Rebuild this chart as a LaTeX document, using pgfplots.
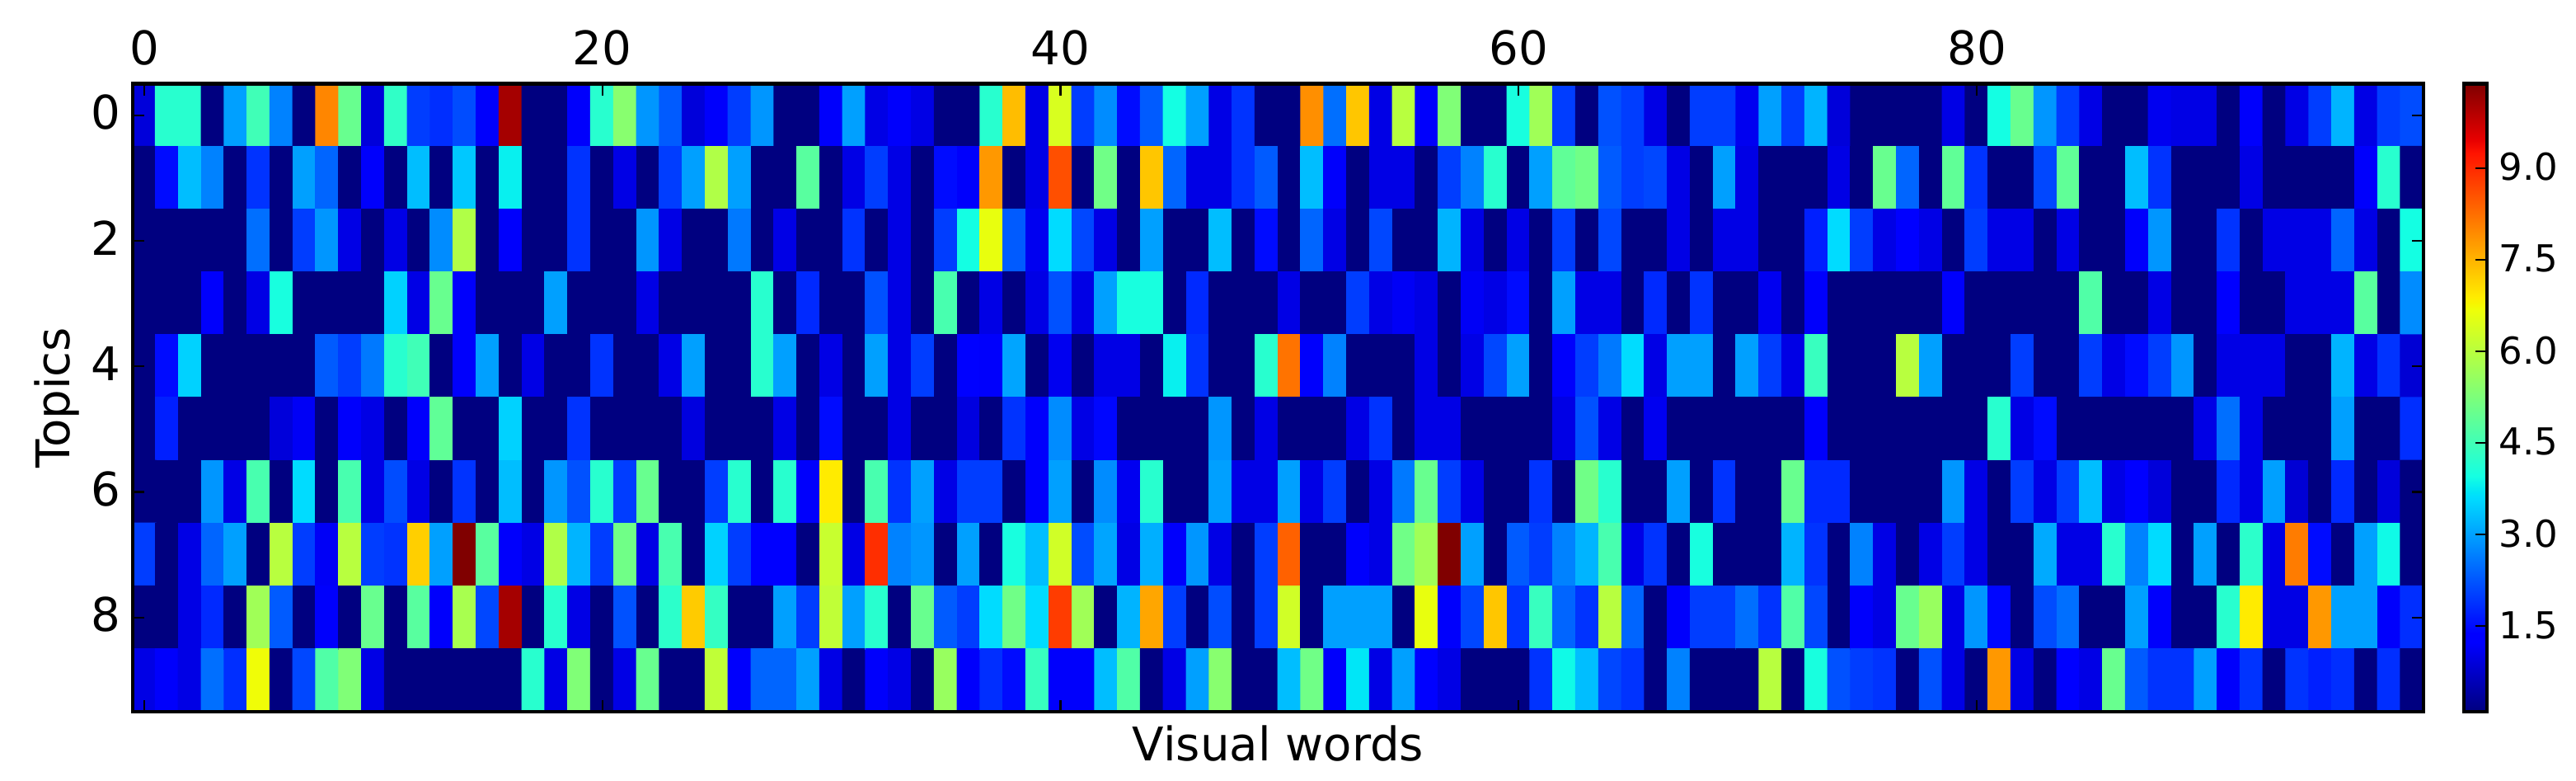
\documentclass[border=0pt]{standalone}
\usepackage{fontspec}
\setmainfont{DejaVu Sans}
\usepackage{pgfplots}
\pgfplotsset{compat=1.18}
\begin{document}
\begin{tikzpicture}
\useasboundingbox (0,0) rectangle (750pt,227.28pt);
\begin{axis}[
  at={(38.64pt,20.16pt)}, anchor=south west,
  scale only axis, width=666.96pt, height=182.76pt,
  xmin=-0.5, xmax=99.5, ymin=-0.5, ymax=9.5, y dir=reverse,
  xtick={0,20,40,60,80}, ytick={0,2,4,6,8},
  xticklabel pos=upper, tick align=inside, xtick pos=both, ytick pos=both,
  major tick length=3.4pt,
  every tick/.style={black,line width=0.5pt},
  axis line style={line width=1pt},
  axis on top,
  /pgf/number format/assume math mode=true,
  tick label style={font=\fontsize{13.5}{16}\selectfont},
  xticklabel style={yshift=1.9pt},
  yticklabel style={yshift=0.8pt},
  label style={font=\fontsize{13.5}{16}\selectfont},
  xlabel={Visual words},
  xlabel style={at={(axis description cs:0.5,0)},anchor=north,yshift=-0.6pt},
  ylabel={Topics},
  ylabel style={at={(axis description cs:0,0.5)},anchor=south,yshift=12pt},
  colormap={mjet}{rgb(0pt)=(0,0,.5); rgb(11pt)=(0,0,1); rgb(12.5pt)=(0,0,1); rgb(34pt)=(0,.86,1); rgb(35pt)=(0,.9,.968); rgb(37.5pt)=(.08,1,.887); rgb(64pt)=(.935,1,.032); rgb(65pt)=(.968,.963,0); rgb(66pt)=(1,.926,0); rgb(89pt)=(1,.074,0); rgb(91pt)=(.909,0,0); rgb(100pt)=(.5,0,0)},
  point meta min=0.1, point meta max=10.38,
  colorbar,
  colorbar style={
    at={(1.01763,0)}, anchor=south west,
    width=6.72pt, height=182.76pt,
    ytick={1.5,3,4.5,6,7.5,9},
    tick align=inside, major tick length=3.4pt,
    every tick/.style={black,line width=0.5pt},
    axis line style={line width=1pt},
    ytick pos=right, yticklabel pos=right,
    /pgf/number format/fixed,
    /pgf/number format/fixed zerofill,
    /pgf/number format/precision=1,
    /pgf/number format/assume math mode=true,
    tick label style={font=\fontsize{10.8}{13}\selectfont},
    yticklabel style={yshift=0.3pt},
  },
]
\addplot[matrix plot*, mesh/cols=100, mesh/rows=10, point meta=explicit]
 table[row sep=\\, header=false, x expr={mod(\coordindex,100)}, y expr={floor(\coordindex/100)}, meta index=0] {
0.9\\4.2\\4.2\\0.1\\3.0\\4.5\\2.7\\0.1\\8.0\\5.0\\0.9\\4.3\\2.0\\1.85\\2.15\\1.2\\10.05\\0.1\\0.1\\1.2\\4.2\\5.4\\2.9\\2.3\\0.9\\
1.2\\2.0\\2.9\\0.1\\0.1\\1.2\\3.0\\1.0\\1.2\\1.0\\0.1\\0.1\\4.2\\7.4\\1.0\\6.4\\2.0\\2.8\\1.5\\2.3\\3.95\\3.0\\1.0\\1.9\\0.1\\
0.1\\7.9\\2.5\\7.3\\1.0\\6.0\\1.2\\5.3\\0.1\\0.1\\4.0\\5.7\\2.0\\0.1\\2.2\\2.0\\1.0\\0.1\\2.0\\2.0\\1.1\\3.0\\2.0\\3.2\\0.9\\
0.1\\0.1\\0.1\\0.1\\1.0\\0.1\\3.95\\5.0\\2.9\\2.0\\1.0\\0.1\\0.1\\1.1\\1.0\\1.0\\0.1\\1.2\\0.1\\1.0\\2.0\\3.2\\1.0\\2.0\\2.15\\
0.1\\1.5\\3.3\\2.7\\0.1\\1.9\\0.1\\3.0\\2.4\\0.1\\1.2\\0.1\\3.3\\0.1\\3.4\\0.1\\3.8\\0.1\\0.1\\1.9\\0.1\\1.0\\0.1\\2.0\\3.0\\
5.9\\3.0\\0.1\\0.1\\4.8\\0.1\\1.0\\2.0\\1.0\\0.1\\1.5\\1.2\\7.8\\0.1\\1.0\\8.6\\0.1\\5.1\\0.1\\7.3\\2.4\\1.0\\1.0\\1.9\\2.3\\
0.1\\3.3\\1.2\\0.1\\1.0\\1.0\\0.1\\2.0\\2.7\\4.2\\0.1\\3.0\\4.9\\5.1\\2.3\\2.0\\2.1\\1.0\\0.1\\3.0\\1.0\\0.1\\0.1\\0.1\\1.0\\
0.1\\5.0\\2.4\\0.1\\4.9\\1.9\\0.1\\0.1\\2.1\\4.9\\0.1\\0.1\\3.3\\1.9\\0.1\\0.1\\0.1\\1.0\\0.1\\0.1\\0.1\\0.1\\1.2\\4.2\\0.1\\
0.1\\0.1\\0.1\\0.1\\0.1\\2.5\\0.1\\2.0\\2.9\\1.0\\0.1\\1.0\\0.1\\2.8\\5.9\\0.1\\1.2\\0.1\\0.1\\1.9\\0.1\\0.1\\2.9\\1.0\\0.1\\
0.1\\2.6\\0.1\\1.0\\0.1\\0.1\\1.9\\0.1\\1.0\\0.1\\2.0\\3.95\\6.6\\2.3\\1.1\\3.6\\2.1\\1.0\\0.1\\3.0\\0.1\\0.1\\3.3\\0.1\\1.5\\
0.1\\2.4\\1.0\\0.1\\2.1\\0.1\\0.1\\3.2\\1.0\\0.1\\1.0\\0.1\\2.0\\0.1\\2.1\\0.1\\0.1\\1.0\\0.1\\1.0\\1.0\\0.1\\0.1\\1.7\\3.6\\
2.0\\1.0\\1.35\\1.0\\0.1\\2.0\\1.0\\1.0\\0.1\\1.0\\0.1\\0.1\\1.2\\2.9\\0.1\\0.1\\1.9\\0.1\\1.0\\1.0\\1.0\\2.4\\1.0\\0.1\\3.95\\
0.1\\0.1\\0.1\\1.2\\0.1\\1.0\\4.0\\0.1\\0.1\\0.1\\0.1\\3.5\\1.0\\5.0\\1.2\\0.1\\0.1\\0.1\\3.0\\0.1\\0.1\\0.1\\1.0\\0.1\\0.1\\
0.1\\0.1\\4.2\\0.1\\1.8\\0.1\\0.1\\2.2\\1.0\\0.1\\4.6\\0.1\\1.0\\0.1\\1.0\\2.2\\1.0\\3.0\\4.0\\4.0\\0.1\\1.8\\0.1\\0.1\\0.1\\
1.0\\0.1\\0.1\\2.0\\1.0\\1.15\\1.0\\0.1\\1.15\\1.0\\1.5\\0.1\\3.0\\1.0\\1.0\\0.1\\1.8\\0.1\\1.9\\0.1\\0.1\\1.1\\0.1\\1.2\\0.1\\
0.1\\0.1\\0.1\\0.1\\1.2\\0.1\\0.1\\0.1\\0.1\\0.1\\4.7\\0.1\\0.1\\1.0\\0.1\\0.1\\1.35\\0.1\\0.1\\1.0\\1.0\\1.0\\4.8\\0.1\\2.8\\
0.1\\1.5\\3.5\\0.1\\0.1\\0.1\\0.1\\0.1\\2.3\\2.0\\2.6\\4.2\\4.5\\0.1\\1.2\\3.0\\0.1\\1.0\\0.1\\0.1\\1.9\\0.1\\0.1\\1.0\\3.0\\
0.1\\0.1\\4.2\\3.0\\0.1\\1.0\\0.1\\3.0\\1.0\\2.0\\0.1\\1.4\\1.2\\3.05\\0.1\\1.1\\0.1\\1.0\\1.0\\0.1\\3.8\\1.9\\0.1\\0.1\\4.2\\
8.2\\1.2\\2.7\\0.1\\0.1\\0.1\\1.0\\0.1\\1.0\\2.1\\3.0\\0.1\\1.2\\2.0\\2.6\\3.6\\1.0\\3.0\\3.0\\0.1\\3.0\\2.0\\1.0\\4.4\\0.1\\
0.1\\0.1\\6.0\\3.0\\0.1\\0.1\\0.1\\2.0\\0.1\\0.1\\2.0\\1.0\\1.5\\2.0\\2.9\\0.1\\1.0\\1.0\\1.0\\0.1\\0.1\\3.2\\1.0\\1.9\\0.85\\
0.1\\1.7\\0.1\\0.1\\0.1\\0.1\\0.9\\1.15\\0.1\\1.2\\1.0\\0.1\\1.2\\4.9\\0.1\\0.1\\3.5\\0.1\\0.1\\1.9\\0.1\\0.1\\0.1\\0.1\\0.95\\
0.1\\0.1\\0.1\\1.0\\0.1\\1.5\\0.1\\0.1\\1.0\\0.1\\0.1\\0.95\\0.1\\1.9\\1.2\\2.8\\1.0\\1.45\\0.1\\0.1\\0.1\\0.1\\2.9\\0.1\\1.0\\
0.1\\0.1\\0.1\\1.0\\1.9\\0.1\\1.0\\1.0\\0.1\\0.1\\0.1\\0.1\\1.0\\2.2\\1.0\\0.1\\1.1\\0.1\\0.1\\0.1\\0.1\\0.1\\0.1\\1.2\\0.1\\
0.1\\0.1\\0.1\\0.1\\0.1\\0.1\\4.2\\1.0\\1.5\\0.1\\0.1\\0.1\\0.1\\0.1\\0.1\\1.0\\2.5\\1.0\\0.1\\0.1\\0.1\\3.0\\0.1\\0.1\\1.85\\
0.1\\0.1\\0.1\\2.9\\1.0\\4.6\\0.1\\3.6\\0.1\\4.6\\1.0\\2.15\\1.0\\0.1\\1.9\\0.1\\3.3\\0.1\\2.9\\2.2\\4.2\\2.0\\5.0\\0.1\\0.1\\
2.0\\4.2\\0.1\\4.2\\1.2\\6.9\\0.1\\4.6\\1.9\\3.0\\1.0\\2.0\\2.0\\0.1\\1.2\\3.0\\0.1\\2.8\\1.1\\4.2\\0.1\\0.1\\3.0\\1.0\\1.0\\
3.0\\1.0\\2.0\\0.1\\1.0\\2.6\\5.0\\2.0\\1.0\\0.1\\0.1\\1.9\\0.1\\5.1\\4.2\\0.1\\0.1\\3.0\\0.1\\1.9\\0.1\\0.1\\5.0\\1.8\\1.8\\
0.1\\0.1\\0.1\\0.1\\2.9\\1.0\\0.1\\2.0\\1.0\\2.0\\3.3\\1.0\\1.35\\0.9\\0.1\\0.1\\1.8\\1.0\\3.0\\0.85\\0.1\\1.8\\0.1\\0.9\\0.1\\
2.0\\0.1\\1.0\\2.4\\3.0\\0.1\\6.0\\2.0\\1.15\\6.0\\2.0\\1.9\\7.2\\3.0\\10.38\\4.8\\1.2\\1.0\\5.9\\3.2\\2.0\\5.1\\1.0\\4.6\\0.1\\
3.5\\2.0\\1.3\\1.3\\0.1\\6.2\\1.0\\8.95\\2.7\\2.9\\0.1\\3.0\\0.1\\4.0\\3.3\\6.3\\2.15\\3.05\\1.0\\3.15\\1.2\\2.9\\1.0\\0.1\\2.0\\
8.4\\0.1\\0.1\\1.2\\1.0\\5.1\\5.7\\10.38\\3.0\\0.1\\2.3\\2.0\\2.7\\3.2\\4.6\\1.0\\1.9\\0.1\\4.0\\0.1\\0.1\\0.1\\3.2\\1.9\\0.1\\
2.7\\1.0\\0.1\\1.0\\2.0\\1.0\\0.1\\0.1\\3.1\\1.0\\1.0\\4.2\\2.7\\3.6\\0.1\\3.0\\0.1\\4.25\\1.0\\8.1\\1.5\\0.1\\3.0\\3.9\\0.1\\
0.1\\0.1\\1.0\\1.8\\0.1\\5.7\\2.3\\0.1\\1.2\\0.1\\5.0\\0.1\\4.8\\1.2\\5.8\\2.1\\10.05\\0.1\\4.2\\1.0\\0.1\\2.2\\0.1\\4.25\\7.25\\
4.35\\0.1\\0.1\\3.0\\2.0\\6.1\\3.0\\4.2\\0.1\\5.0\\2.3\\2.0\\3.6\\5.1\\3.6\\8.8\\5.7\\0.1\\3.2\\7.65\\2.0\\0.1\\2.15\\0.1\\2.0\\
6.3\\0.1\\3.0\\3.0\\3.0\\0.1\\6.6\\1.2\\2.1\\7.3\\1.9\\4.4\\2.4\\1.9\\6.0\\2.4\\0.1\\1.2\\2.0\\2.0\\2.5\\1.9\\4.7\\2.1\\0.1\\
1.2\\1.0\\5.0\\5.6\\1.0\\2.9\\1.45\\0.1\\2.15\\2.5\\0.1\\0.1\\3.0\\1.2\\0.1\\0.1\\4.2\\6.9\\1.0\\1.0\\7.8\\3.0\\3.0\\1.2\\1.85\\
1.0\\1.2\\1.0\\2.5\\1.85\\6.7\\0.1\\2.1\\4.7\\5.3\\1.0\\0.1\\0.1\\0.1\\0.1\\0.1\\0.1\\4.2\\1.0\\5.3\\0.1\\1.0\\5.0\\0.1\\0.1\\
6.1\\1.2\\2.4\\2.4\\3.0\\1.0\\0.1\\1.2\\1.0\\0.1\\5.6\\1.2\\1.85\\1.5\\4.4\\1.2\\1.2\\3.3\\4.7\\0.1\\1.0\\3.0\\5.4\\0.1\\0.1\\
3.3\\5.1\\1.2\\3.7\\1.0\\3.0\\1.4\\1.0\\0.1\\0.1\\0.1\\1.9\\3.9\\3.3\\2.1\\1.9\\0.1\\2.7\\0.1\\0.1\\0.1\\6.0\\0.1\\4.0\\2.2\\
2.0\\1.9\\0.1\\2.2\\1.0\\0.1\\7.8\\1.0\\0.1\\1.35\\1.0\\5.0\\2.3\\1.9\\1.9\\3.0\\1.2\\1.9\\0.1\\1.9\\1.7\\1.85\\0.1\\1.85\\0.1\\
};
\end{axis}
\end{tikzpicture}
\end{document}
